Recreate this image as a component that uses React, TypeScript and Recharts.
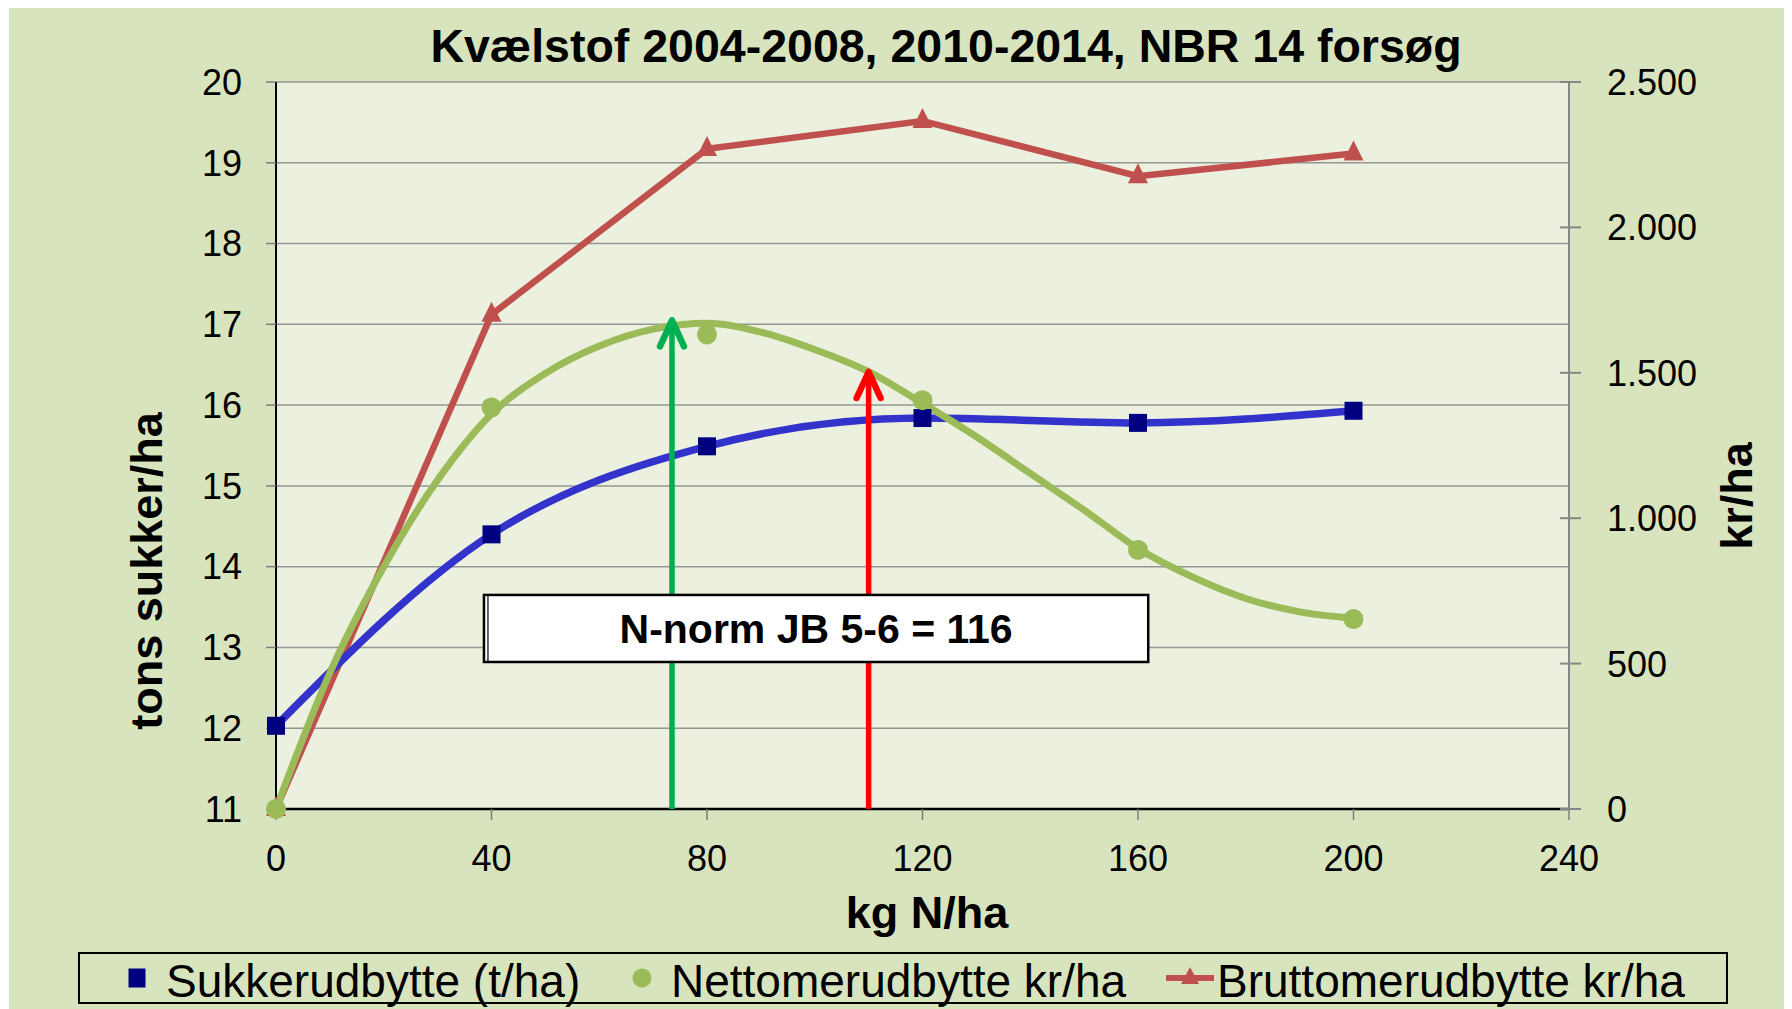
import React from 'react';
import {
  ComposedChart,
  Line,
  XAxis,
  YAxis,
  CartesianGrid,
  ReferenceLine,
  ReferenceArea,
} from 'recharts';

// ---------- data ----------
const nLevels = [0, 40, 80, 120, 160, 200];
const sukkerudbytte = [12.03, 14.4, 15.49, 15.84, 15.78, 15.93];
const nettomerudbytte = [0, 1381, 1632, 1406, 891, 653];
const bruttomerudbytte = [0, 1700, 2270, 2366, 2176, 2254];

// trendline of Nettomerudbytte
const trendX = [0, 10, 20, 30, 40, 50, 60, 70, 80, 90, 100, 110, 120, 130, 140, 150, 160, 170, 180, 190, 200];
const nettoTrend = [0, 468, 833, 1131, 1358, 1498, 1592, 1650, 1670, 1640, 1580, 1504, 1395, 1280, 1154, 1028, 896, 799, 724, 678, 656];

const xTicks = [0, 40, 80, 120, 160, 200, 240];
const leftTicks = [11, 12, 13, 14, 15, 16, 17, 18, 19, 20];
const rightTicks = [0, 500, 1000, 1500, 2000, 2500];

const titleText = 'Kvælstof 2004-2008, 2010-2014, NBR 14 forsøg';
const xTitle = 'kg N/ha';
const leftTitle = 'tons sukker/ha';
const rightTitle = 'kr/ha';
const legendNames = ['Sukkerudbytte (t/ha)', 'Nettomerudbytte kr/ha', 'Bruttomerudbytte kr/ha'];

const greenArrow = { x: 73.5, from: 11, to: 17.05 };
const redArrow = { x: 110, from: 11, to: 16.41 };
const normBox = { x1: 38.6, x2: 161.9, y1: 12.82, y2: 13.65, text: 'N-norm JB 5-6 = 116' };

// ---------- styles ----------
const FONT = '"Liberation Sans", Arial, Helvetica, sans-serif';
const OUTER_BG = '#D7E4BD';
const PLOT_BG = '#EBF1DE';
const BLUE_LINE = '#3333CC';
const BLUE_MARK = '#000080';
const GREEN = '#9BBB59';
const RED = '#C0504D';
const W = 1783;
const H = 1003;

const data = trendX.map((x, i) => {
  const j = nLevels.indexOf(x);
  return {
    x,
    trend: nettoTrend[i],
    sukker: j >= 0 ? sukkerudbytte[j] : null,
    netto: j >= 0 ? nettomerudbytte[j] : null,
    brutto: j >= 0 ? bruttomerudbytte[j] : null,
  };
});

const fmtKr = (v: number) =>
  v >= 1000 ? `${Math.floor(v / 1000)}.${String(v % 1000).padStart(3, '0')}` : String(v);

const SquareDot = (p: any) => {
  const { cx, cy, index } = p;
  if (cx == null || cy == null) return <g key={`s${index}`} />;
  return <rect key={`s${index}`} x={cx - 9} y={cy - 9} width={18} height={18} fill={BLUE_MARK} />;
};
const CircleDot = (p: any) => {
  const { cx, cy, index } = p;
  if (cx == null || cy == null) return <g key={`c${index}`} />;
  return <circle key={`c${index}`} cx={cx} cy={cy} r={10} fill={GREEN} />;
};
const TriDot = (p: any) => {
  const { cx, cy, index } = p;
  if (cx == null || cy == null) return <g key={`t${index}`} />;
  return (
    <polygon
      key={`t${index}`}
      points={`${cx},${cy - 13} ${cx - 10},${cy + 7} ${cx + 10},${cy + 7}`}
      fill={RED}
    />
  );
};

const RightTick = (p: any) => {
  const { x, y, payload } = p;
  return (
    <g>
      <line x1={x - 9} x2={x + 12} y1={y} y2={y} stroke="#868686" strokeWidth={2} />
      <text x={x + 38} y={y} dy="0.36em" fontSize={36} fill="#000" fontFamily={FONT} textAnchor="start">
        {fmtKr(payload.value)}
      </text>
    </g>
  );
};

const arrowShape = (color: string) => (p: any) => {
  const { x1, y1, x2, y2 } = p;
  return (
    <g>
      <line x1={x1} y1={y1} x2={x2} y2={y2 + 2} stroke={color} strokeWidth={5.5} />
      <polyline
        points={`${x2 - 12},${y2 + 26} ${x2},${y2} ${x2 + 12},${y2 + 26}`}
        fill="none"
        stroke={color}
        strokeWidth={6.5}
        strokeLinecap="round"
        strokeLinejoin="round"
      />
    </g>
  );
};

const BoxShape = (p: any) => {
  const { x, y, width, height } = p;
  return (
    <g>
      <rect x={x} y={y} width={width} height={height} fill="#FFFFFF" stroke="#000" strokeWidth={2.5} />
      <line x1={x + 4} x2={x + 4} y1={y} y2={y + height} stroke="#000" strokeWidth={1.2} />
    </g>
  );
};

export default function App() {
  return (
    <div
      style={{
        position: 'relative',
        width: W,
        height: H,
        marginLeft: 1,
        marginTop: -2,
        background: OUTER_BG,
        fontFamily: FONT,
      }}
    >
      <ComposedChart width={W} height={H} data={data} margin={{ top: 76, right: 0, bottom: 0, left: 0 }}>
        <CartesianGrid horizontal vertical={false} stroke="#969696" strokeWidth={1.5} fill={PLOT_BG} />
        <XAxis
          dataKey="x"
          type="number"
          domain={[0, 240]}
          ticks={xTicks}
          interval={0}
          height={200}
          tickSize={11}
          tickMargin={25}
          tick={{ fontSize: 36, fill: '#000', fontFamily: FONT }}
          tickLine={{ stroke: '#7f7f7f', strokeWidth: 1.5 }}
          axisLine={{ stroke: '#000', strokeWidth: 2.5 }}
        />
        <YAxis
          type="number"
          domain={[11, 20]}
          ticks={leftTicks}
          interval={0}
          width={267}
          tickSize={10}
          tickMargin={24}
          tick={{ fontSize: 36, fill: '#000', fontFamily: FONT }}
          tickLine={{ stroke: '#7f7f7f', strokeWidth: 1.5 }}
          axisLine={{ stroke: '#000', strokeWidth: 2 }}
        />
        <YAxis
          yAxisId="right"
          orientation="right"
          type="number"
          domain={[0, 2500]}
          ticks={rightTicks}
          interval={0}
          width={223}
          tickSize={0}
          tickMargin={0}
          tick={<RightTick />}
          tickLine={false}
          axisLine={{ stroke: '#868686', strokeWidth: 2 }}
        />
        <Line
          yAxisId="right"
          dataKey="brutto"
          type="linear"
          stroke={RED}
          strokeWidth={6.5}
          connectNulls
          dot={TriDot}
          activeDot={false}
          isAnimationActive={false}
        />
        <Line
          dataKey="sukker"
          type="monotone"
          stroke={BLUE_LINE}
          strokeWidth={7.5}
          connectNulls
          dot={SquareDot}
          activeDot={false}
          isAnimationActive={false}
        />
        <Line
          yAxisId="right"
          dataKey="netto"
          stroke="none"
          strokeWidth={0}
          connectNulls
          dot={CircleDot}
          activeDot={false}
          isAnimationActive={false}
        />
        <Line
          yAxisId="right"
          dataKey="trend"
          type="monotone"
          stroke={GREEN}
          strokeWidth={7}
          dot={false}
          activeDot={false}
          isAnimationActive={false}
        />
        <ReferenceLine
          segment={[
            { x: greenArrow.x, y: greenArrow.from },
            { x: greenArrow.x, y: greenArrow.to },
          ]}
          stroke="#00B050"
          shape={arrowShape('#00B050')}
          zIndex={600}
        />
        <ReferenceLine
          segment={[
            { x: redArrow.x, y: redArrow.from },
            { x: redArrow.x, y: redArrow.to },
          ]}
          stroke="#FF0000"
          shape={arrowShape('#FF0000')}
          zIndex={600}
        />
        <ReferenceArea
          x1={normBox.x1}
          x2={normBox.x2}
          y1={normBox.y1}
          y2={normBox.y2}
          shape={BoxShape}
          fillOpacity={1}
          zIndex={700}
          label={{
            value: normBox.text,
            position: 'center',
            fontSize: 41,
            fontWeight: 'bold',
            fill: '#000',
            fontFamily: FONT,
          }}
        />
      </ComposedChart>

      <svg
        width={W}
        height={H}
        style={{ position: 'absolute', left: 0, top: 0, pointerEvents: 'none' }}
        fontFamily={FONT}
      >
        <text x={937} y={56} textAnchor="middle" fontSize={46.5} fontWeight="bold" fill="#000">
          {titleText}
        </text>
        <text x={918} y={922} textAnchor="middle" fontSize={45} fontWeight="bold" fill="#000">
          {xTitle}
        </text>
        <text
          transform="translate(153,565) rotate(-90)"
          textAnchor="middle"
          fontSize={45}
          fontWeight="bold"
          fill="#000"
        >
          {leftTitle}
        </text>
        <text
          transform="translate(1743,490) rotate(-90)"
          textAnchor="middle"
          fontSize={45}
          fontWeight="bold"
          fill="#000"
        >
          {rightTitle}
        </text>

        {/* legend */}
        <rect x={70} y={947} width={1648} height={50} fill="none" stroke="#000" strokeWidth={2} />
        <rect x={119.5} y={962.5} width={17} height={19} fill={BLUE_MARK} />
        <text x={157} y={991} fontSize={46} fill="#000">
          {legendNames[0]}
        </text>
        <circle cx={633} cy={972} r={9.5} fill={GREEN} />
        <text x={662} y={991} fontSize={46} fill="#000">
          {legendNames[1]}
        </text>
        <line x1={1157} x2={1205} y1={972} y2={972} stroke={RED} strokeWidth={6} />
        <polygon points="1181,961 1172,978 1190,978" fill={RED} />
        <text x={1208} y={991} fontSize={46} fill="#000">
          {legendNames[2]}
        </text>
      </svg>
    </div>
  );
}
